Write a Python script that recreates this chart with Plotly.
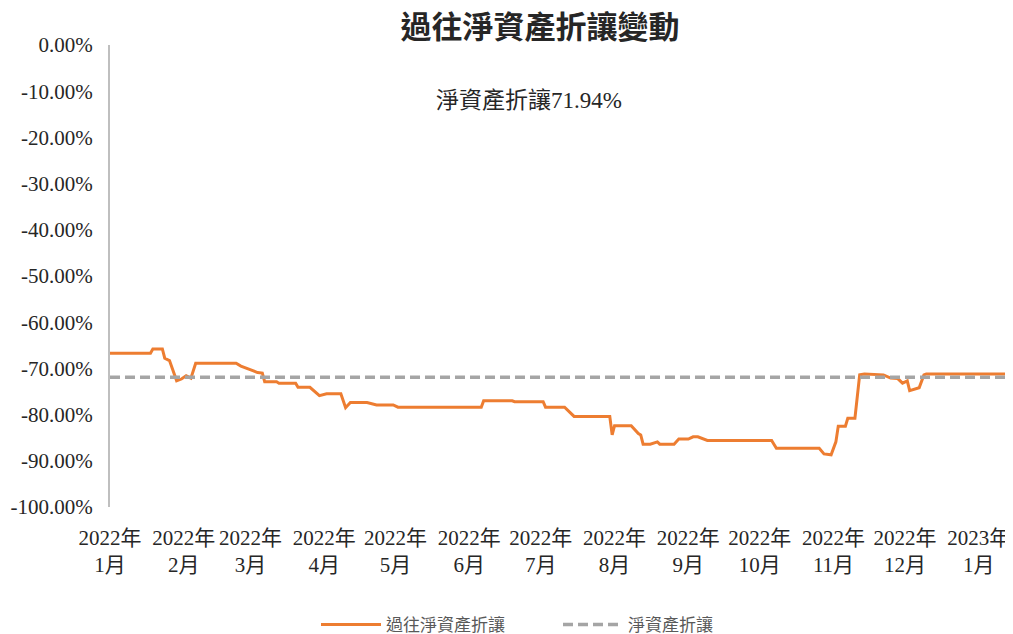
import plotly.graph_objects as go

# ---- data ----
dates = [
    "2022-01-01", "2022-01-18", "2022-01-19", "2022-01-23", "2022-01-24", "2022-01-26",
    "2022-01-29", "2022-01-31", "2022-02-02", "2022-02-04", "2022-02-06", "2022-02-23",
    "2022-02-25", "2022-02-28", "2022-03-02", "2022-03-04", "2022-03-06", "2022-03-07",
    "2022-03-12", "2022-03-13", "2022-03-20", "2022-03-21", "2022-03-26", "2022-03-30",
    "2022-04-02", "2022-04-08", "2022-04-10", "2022-04-12", "2022-04-19", "2022-04-23",
    "2022-04-30", "2022-05-02", "2022-06-06", "2022-06-07", "2022-06-19", "2022-06-20",
    "2022-07-02", "2022-07-03", "2022-07-11", "2022-07-15", "2022-07-30", "2022-07-31",
    "2022-08-01", "2022-08-08", "2022-08-11", "2022-08-12", "2022-08-13", "2022-08-16",
    "2022-08-19", "2022-08-20", "2022-08-26", "2022-08-28", "2022-09-01", "2022-09-03",
    "2022-09-05", "2022-09-09", "2022-10-06", "2022-10-08", "2022-10-26", "2022-10-28",
    "2022-10-31", "2022-11-02", "2022-11-03", "2022-11-06", "2022-11-07", "2022-11-10",
    "2022-11-12", "2022-11-14", "2022-11-22", "2022-11-25", "2022-11-28", "2022-11-30",
    "2022-12-02", "2022-12-03", "2022-12-05", "2022-12-07", "2022-12-09", "2022-12-10",
    "2023-01-13", "2023-01-14",
]
discount = [
    -66.7, -66.7, -65.8, -65.8, -67.8, -68.3,
    -72.7, -72.3, -71.6, -72.1, -68.9, -68.9,
    -69.5, -70.0, -70.5, -70.9, -71.0, -72.9,
    -72.9, -73.2, -73.2, -74.1, -74.1, -75.9,
    -75.5, -75.5, -78.5, -77.4, -77.4, -77.9,
    -77.9, -78.4, -78.4, -77.0, -77.0, -77.2,
    -77.2, -78.4, -78.4, -80.4, -80.4, -84.4,
    -82.4, -82.4, -84.1, -84.4, -86.4, -86.4,
    -85.9, -86.4, -86.4, -85.3, -85.3, -84.8,
    -84.8, -85.6, -85.6, -87.3, -87.3, -88.5,
    -88.7, -85.9, -82.5, -82.5, -80.8, -80.8,
    -71.4, -71.2, -71.4, -72.1, -72.2, -73.2,
    -72.7, -74.8, -74.5, -74.2, -71.4, -71.2,
    -71.2, -71.6,
]
current_discount = -71.94
ref_dates = ["2022-01-01", "2023-01-14"]

month_ticks = [
    "2022-01-01", "2022-02-01", "2022-03-01", "2022-04-01", "2022-05-01", "2022-06-01",
    "2022-07-01", "2022-08-01", "2022-09-01", "2022-10-01", "2022-11-01", "2022-12-01",
    "2023-01-01",
]
month_labels = [
    "2022年<br>1月", "2022年<br>2月", "2022年<br>3月", "2022年<br>4月", "2022年<br>5月",
    "2022年<br>6月", "2022年<br>7月", "2022年<br>8月", "2022年<br>9月", "2022年<br>10月",
    "2022年<br>11月", "2022年<br>12月", "2023年<br>1月",
]
y_ticks = [0, -10, -20, -30, -40, -50, -60, -70, -80, -90, -100]
y_labels = ["0.00%", "-10.00%", "-20.00%", "-30.00%", "-40.00%", "-50.00%",
            "-60.00%", "-70.00%", "-80.00%", "-90.00%", "-100.00%"]

serif = "Liberation Serif, 'Noto Sans CJK TC', serif"
sans = "'Noto Sans CJK TC', sans-serif"

fig = go.Figure()
fig.add_trace(go.Scatter(
    x=dates, y=discount, mode="lines", name="過往淨資產折讓",
    line=dict(color="#ED7D31", width=3),
))
fig.add_trace(go.Scatter(
    x=ref_dates, y=[current_discount, current_discount], mode="lines", name="淨資產折讓",
    line=dict(color="#A5A5A5", width=3.5, dash="10px,5px"),
))

# page body has an 8px margin, so the figure is drawn 8px right/down
W, H = 1005, 626
L, R, T, B = 102, 1, 37, 127
PW, PH = W - L - R, H - T - B

fig.update_layout(
    width=W, height=H,
    margin=dict(l=L, r=R, t=T, b=B, autoexpand=False),
    paper_bgcolor="white", plot_bgcolor="white",
    title=dict(text="<b>過往淨資產折讓變動</b>", x=532 / W, xanchor="center",
               y=1 - 19 / H, yanchor="middle",
               font=dict(family=sans, size=31, color="#262626")),
    showlegend=True,
    legend=dict(orientation="h", x=(550 - L) / PW, xanchor="center",
                y=(H - B - 617) / PH, yanchor="middle",
                font=dict(family=sans, size=17, color="#595959"),
                itemwidth=60, entrywidth=167, entrywidthmode="pixels"),
    xaxis=dict(type="date", range=["2022-01-01", "2023-01-15"], automargin=False,
               tickvals=month_ticks, ticktext=month_labels,
               showgrid=False, showline=False, zeroline=False, ticks="",
               ticklabelstandoff=16,
               tickfont=dict(family=serif, size=21, color="#262626")),
    yaxis=dict(range=[-100, 0], tickvals=y_ticks, ticktext=y_labels, automargin=False,
               showgrid=False, zeroline=False, showline=True, linecolor="#BFBFBF", linewidth=2,
               ticks="", ticklabelstandoff=11,
               tickfont=dict(family=serif, size=21, color="#262626")),
    annotations=[dict(text="淨資產折讓71.94%",
                      x=(521 - L) / PW, xref="paper",
                      y=(H - B - 92) / PH, yref="paper",
                      showarrow=False, xanchor="center", yanchor="middle",
                      font=dict(family=serif, size=23, color="#262626"))],
)

fig.write_html("out.html")
